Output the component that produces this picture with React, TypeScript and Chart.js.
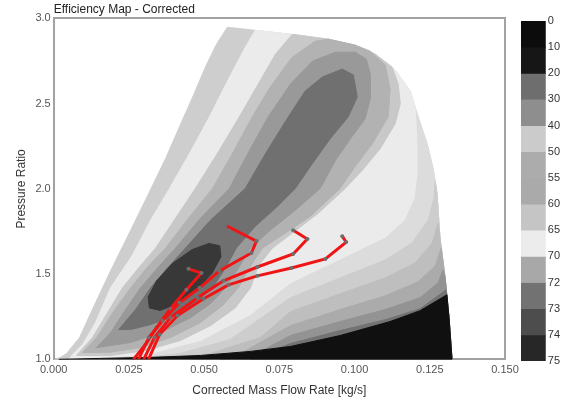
import React, { useEffect, useRef } from 'react';
import { Chart, registerables } from 'chart.js';

Chart.register(...registerables);
Chart.defaults.font.family = "'Liberation Sans', Arial, sans-serif";

type Pt = [number, number];

// ---- axis / tick data ----
const xMin = 0, xMax = 0.15, xStep = 0.025;
const yMin = 1, yMax = 3, yStep = 0.5;
const titleText = 'Efficiency Map - Corrected';
const xTitle = 'Corrected Mass Flow Rate [kg/s]';
const yTitle = 'Pressure Ratio';

// ---- colour bar ----
const barLabels = ['0', '10', '20', '30', '40', '50', '55', '60', '65', '70', '72', '73', '74', '75'];
const barColors = ['#0c0c0c', '#161616', '#6e6e6e', '#8e8e8e', '#cbcbcb', '#acacac', '#aaaaaa', '#c5c5c5', '#ececec', '#a8a8a8', '#727272', '#4d4d4d', '#272727'];

// ---- contour regions (mass flow, pressure ratio) ----
const envelope: Pt[] = [
  [0.0003, 1.000], [0.0023, 1.012], [0.0043, 1.035], [0.0086, 1.128], [0.0139, 1.332], [0.0189, 1.519],
  [0.0256, 1.758], [0.0319, 1.985], [0.0372, 2.178], [0.0418, 2.364], [0.0465, 2.551], [0.0504, 2.714],
  [0.0541, 2.848], [0.0577, 2.948], [0.0670, 2.930], [0.0787, 2.907], [0.0913, 2.878], [0.1002, 2.843],
  [0.1069, 2.790], [0.1135, 2.697], [0.1185, 2.574], [0.1211, 2.423], [0.1241, 2.265], [0.1261, 2.120],
  [0.1274, 1.974], [0.1284, 1.711], [0.1301, 1.478], [0.1314, 1.245], [0.1324, 1.000],
];

const lightEdge: Pt[] = [
  [0.0050, 1.000], [0.0063, 1.029], [0.0096, 1.087], [0.0139, 1.216], [0.0189, 1.420], [0.0262, 1.612],
  [0.0322, 1.816], [0.0385, 2.003], [0.0455, 2.219], [0.0518, 2.423], [0.0581, 2.644], [0.0637, 2.831],
];

const chokeBand1: Pt[] = [
  [0.0156, 1.000], [0.0322, 1.029], [0.0488, 1.105], [0.0654, 1.257], [0.0787, 1.443], [0.0952, 1.583],
  [0.1102, 1.711], [0.1168, 1.816], [0.1201, 1.945], [0.1211, 2.090], [0.1211, 2.236], [0.1208, 2.382], [0.1205, 2.458],
];
const chokeBand2: Pt[] = [
  [0.0256, 1.000], [0.0421, 1.035], [0.0587, 1.117], [0.0787, 1.362], [0.0952, 1.478], [0.1102, 1.583],
  [0.1191, 1.682], [0.1244, 1.816], [0.1264, 1.945], [0.1268, 2.050],
];
const chokeBand3: Pt[] = [
  [0.0355, 1.000], [0.0521, 1.035], [0.0687, 1.128], [0.0787, 1.280], [0.0952, 1.385], [0.1102, 1.478],
  [0.1201, 1.566], [0.1258, 1.682], [0.1278, 1.799],
];
const chokeBand4: Pt[] = [
  [0.0455, 1.000], [0.0621, 1.035], [0.0787, 1.198], [0.0952, 1.292], [0.1102, 1.373], [0.1211, 1.455],
  [0.1268, 1.548], [0.1288, 1.653],
];
const chokeBand5: Pt[] = [
  [0.0554, 1.000], [0.0687, 1.047], [0.0787, 1.140], [0.0952, 1.222], [0.1102, 1.292], [0.1218, 1.362],
  [0.1278, 1.449], [0.1294, 1.525],
];
const chokeBand6: Pt[] = [
  [0.0654, 1.000], [0.0787, 1.093], [0.0952, 1.169], [0.1102, 1.233], [0.1218, 1.297], [0.1304, 1.408],
];
const chokeBlack: Pt[] = [
  [0.0017, 1.000], [0.0156, 1.006], [0.0322, 1.012], [0.0488, 1.023], [0.0654, 1.047], [0.0787, 1.076],
  [0.0952, 1.140], [0.1118, 1.222], [0.1218, 1.286], [0.1307, 1.379],
];

const ridge60: Pt[] = [
  [0.0076, 1.023], [0.0129, 1.128], [0.0179, 1.274], [0.0229, 1.420], [0.0282, 1.536], [0.0339, 1.653],
  [0.0405, 1.828], [0.0471, 2.003], [0.0544, 2.207], [0.0617, 2.423], [0.0680, 2.615], [0.0737, 2.790],
  [0.0793, 2.907], [0.0913, 2.878], [0.1002, 2.843], [0.1069, 2.790], [0.1125, 2.714], [0.1145, 2.615],
  [0.1152, 2.499], [0.1135, 2.382], [0.1085, 2.236], [0.1025, 2.108], [0.0969, 2.003], [0.0879, 1.857],
  [0.0793, 1.741], [0.0727, 1.653], [0.0680, 1.548], [0.0654, 1.420], [0.0604, 1.303], [0.0521, 1.198],
  [0.0421, 1.111], [0.0305, 1.052], [0.0189, 1.023],
];
const ridge70: Pt[] = [
  [0.0096, 1.041], [0.0143, 1.128], [0.0196, 1.274], [0.0256, 1.420], [0.0309, 1.536], [0.0372, 1.653],
  [0.0448, 1.828], [0.0528, 2.003], [0.0594, 2.207], [0.0660, 2.423], [0.0720, 2.598], [0.0793, 2.773],
  [0.0869, 2.866], [0.0913, 2.878], [0.1002, 2.843], [0.1052, 2.808], [0.1102, 2.726], [0.1118, 2.586],
  [0.1112, 2.423], [0.1059, 2.265], [0.1002, 2.131], [0.0952, 2.003], [0.0853, 1.840], [0.0770, 1.741],
  [0.0694, 1.653], [0.0654, 1.548], [0.0614, 1.420], [0.0561, 1.315], [0.0488, 1.216], [0.0388, 1.128],
  [0.0289, 1.070], [0.0183, 1.041],
];
const ridge72: Pt[] = [
  [0.0143, 1.070], [0.0189, 1.157], [0.0239, 1.292], [0.0289, 1.420], [0.0345, 1.536], [0.0405, 1.653],
  [0.0488, 1.828], [0.0584, 2.003], [0.0654, 2.236], [0.0713, 2.423], [0.0787, 2.615], [0.0860, 2.749],
  [0.0936, 2.802], [0.1002, 2.802], [0.1039, 2.761], [0.1052, 2.674], [0.1052, 2.528], [0.1035, 2.411],
  [0.0986, 2.294], [0.0936, 2.166], [0.0886, 2.003], [0.0803, 1.875], [0.0720, 1.758], [0.0654, 1.653],
  [0.0614, 1.536], [0.0571, 1.420], [0.0521, 1.327], [0.0455, 1.245], [0.0355, 1.157], [0.0256, 1.099],
];
const ridge73: Pt[] = [
  [0.0216, 1.175], [0.0272, 1.292], [0.0322, 1.420], [0.0378, 1.536], [0.0438, 1.653], [0.0521, 1.816],
  [0.0637, 2.003], [0.0704, 2.207], [0.0780, 2.423], [0.0836, 2.574], [0.0893, 2.656], [0.0959, 2.703],
  [0.0996, 2.668], [0.1009, 2.539], [0.0979, 2.423], [0.0919, 2.294], [0.0860, 2.149], [0.0803, 2.003],
  [0.0737, 1.886], [0.0670, 1.781], [0.0607, 1.653], [0.0571, 1.536], [0.0528, 1.420], [0.0471, 1.332],
  [0.0405, 1.257], [0.0322, 1.204], [0.0256, 1.175],
];
const island74: Pt[] = [
  [0.0552, 1.666], [0.0556, 1.602], [0.0527, 1.507], [0.0474, 1.405], [0.0411, 1.325], [0.0353, 1.287],
  [0.0318, 1.302], [0.0314, 1.366], [0.0342, 1.461], [0.0395, 1.563], [0.0459, 1.643], [0.0516, 1.680],
];

// ---- speed lines ----
const speedLine1: Pt[] = [
  [0.0448, 1.531], [0.0491, 1.507], [0.0441, 1.408], [0.0388, 1.297], [0.0342, 1.187], [0.0305, 1.087], [0.0265, 1.000],
];
const speedLine2: Pt[] = [
  [0.0571, 1.787], [0.0674, 1.694], [0.0657, 1.624], [0.0551, 1.519], [0.0485, 1.420], [0.0418, 1.332],
  [0.0362, 1.227], [0.0316, 1.128], [0.0282, 1.000],
];
const speedLine3: Pt[] = [
  [0.0796, 1.758], [0.0843, 1.706], [0.0796, 1.618], [0.0677, 1.542], [0.0564, 1.461], [0.0478, 1.362],
  [0.0388, 1.245], [0.0335, 1.128], [0.0299, 1.000],
];
const speedLine4: Pt[] = [
  [0.0959, 1.723], [0.0972, 1.688], [0.0903, 1.589], [0.0790, 1.536], [0.0677, 1.490], [0.0581, 1.437],
  [0.0498, 1.356], [0.0412, 1.257], [0.0352, 1.146], [0.0315, 1.000],
];

const rightEdgeFrom = (i: number) => envelope.slice(i);

const layers: { pts: Pt[]; color: string }[] = [
  { pts: envelope, color: '#cecece' },
  { pts: [...lightEdge, ...rightEdgeFrom(14)], color: '#ebebeb' },
  { pts: [...chokeBand1, ...rightEdgeFrom(21)], color: '#dcdcdc' },
  { pts: [...chokeBand2, ...rightEdgeFrom(24)], color: '#cdcdcd' },
  { pts: [...chokeBand3, ...rightEdgeFrom(25)], color: '#bebebe' },
  { pts: [...chokeBand4, ...rightEdgeFrom(26)], color: '#ababab' },
  { pts: [...chokeBand5, ...rightEdgeFrom(26)], color: '#939393' },
  { pts: [...chokeBand6, ...rightEdgeFrom(27)], color: '#737373' },
  { pts: [...chokeBlack, ...rightEdgeFrom(27)], color: '#101010' },
  { pts: ridge60, color: '#c8c8c8' },
  { pts: ridge70, color: '#b2b2b2' },
  { pts: ridge72, color: '#999999' },
  { pts: ridge73, color: '#707070' },
  { pts: island74, color: '#383838' },
];
const speedLines = [speedLine1, speedLine2, speedLine3, speedLine4];

const toXY = (pts: Pt[]) => pts.map(([x, y]) => ({ x, y }));

export default function App() {
  const mainRef = useRef<HTMLCanvasElement>(null);
  const barRef = useRef<HTMLCanvasElement>(null);

  useEffect(() => {
    if (!mainRef.current || !barRef.current) return;
    const n = layers.length + speedLines.length;
    const datasets: any[] = [];
    layers.forEach((l, i) => {
      const pts = [...l.pts, l.pts[0]];
      datasets.push({
        data: toXY(pts),
        borderColor: l.color,
        backgroundColor: l.color,
        borderWidth: 1,
        pointRadius: 0,
        fill: 'shape',
        tension: 0,
        order: n - i,
      });
    });
    speedLines.forEach((s, j) => {
      datasets.push({
        data: toXY(s),
        borderColor: '#f01414',
        backgroundColor: '#6e6e6e',
        borderWidth: 3,
        pointRadius: s.map((_, k) => (k === s.length - 1 ? 0 : 2)),
        pointBackgroundColor: '#6e6e6e',
        pointBorderWidth: 0,
        fill: false,
        tension: 0,
        order: n - layers.length - j,
      });
    });

    const border = { display: true, color: '#a2a2a2', width: 2 };
    const tickFont = { size: 11 };
    const main = new Chart(mainRef.current, {
      type: 'line',
      data: { datasets },
      options: {
        animation: false,
        responsive: false,
        events: [],
        layout: { padding: { left: 10, right: 65, top: 2, bottom: 5 } },
        plugins: { legend: { display: false }, tooltip: { enabled: false }, title: { display: false } },
        scales: {
          x: {
            type: 'linear', position: 'bottom', min: xMin, max: xMax,
            grid: { display: false, drawTicks: false }, border,
            ticks: { stepSize: xStep, autoSkip: false, maxRotation: 0, color: '#555', font: tickFont, padding: 4,
              callback: (v: any) => Number(v).toFixed(3) },
            title: { display: true, text: xTitle, color: '#333', font: { size: 12 }, padding: { top: 3, bottom: 0 } },
          },
          y: {
            type: 'linear', position: 'left', min: yMin, max: yMax,
            grid: { display: false, drawTicks: false }, border,
            ticks: { stepSize: yStep, autoSkip: false, color: '#555', font: tickFont, padding: 3,
              callback: (v: any) => Number(v).toFixed(1) },
            title: { display: true, text: yTitle, color: '#333', font: { size: 12 }, padding: { top: 4, bottom: 4 } },
          },
          x2: {
            type: 'linear', position: 'top', min: xMin, max: xMax,
            grid: { display: false, drawTicks: false }, border,
            ticks: { display: false },
            title: { display: true, text: titleText, align: 'start', color: '#222', font: { size: 12 }, padding: { top: 0, bottom: 2 } },
          },
          y2: {
            type: 'linear', position: 'right', min: yMin, max: yMax,
            grid: { display: false, drawTicks: false }, border,
            ticks: { display: false },
          },
        },
      } as any,
    });

    const bar = new Chart(barRef.current, {
      type: 'bar',
      data: {
        labels: [''],
        datasets: barColors.map((c) => ({
          data: [1], backgroundColor: c, borderWidth: 0, barPercentage: 1, categoryPercentage: 1,
        })),
      },
      options: {
        animation: false,
        responsive: false,
        events: [],
        layout: { padding: { left: 16, right: 8, top: 21, bottom: 42 } },
        plugins: { legend: { display: false }, tooltip: { enabled: false } },
        scales: {
          x: { display: false, stacked: true },
          y: {
            stacked: true, min: 0, max: barColors.length, reverse: true, position: 'right',
            grid: { display: false, drawTicks: false }, border: { display: false },
            ticks: { stepSize: 1, autoSkip: false, color: '#333', font: tickFont, padding: 2,
              callback: (v: any) => barLabels[Number(v)] },
          },
        },
      } as any,
    });

    return () => { main.destroy(); bar.destroy(); };
  }, []);

  return (
    <div style={{ position: 'fixed', left: 0, top: 0, width: 570, height: 403, background: '#fff' }}>
      <canvas ref={mainRef} width={570} height={403} style={{ position: 'absolute', left: 0, top: 0 }} />
      <canvas ref={barRef} width={65} height={403} style={{ position: 'absolute', left: 505, top: 0 }} />
    </div>
  );
}
